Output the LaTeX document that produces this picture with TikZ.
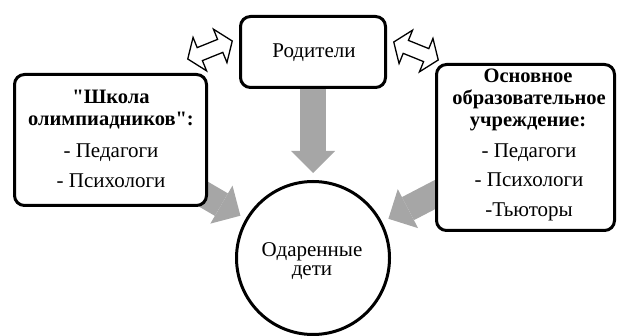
\documentclass[tikz,border=0pt]{standalone}
\usepackage{fontspec}
\newfontfamily\dfont{Liberation Serif}
\usetikzlibrary{arrows.meta,backgrounds}
\definecolor{arrowgray}{RGB}{166,166,166}
\begin{document}
\begin{tikzpicture}[x=1pt,y=-1pt,
  box/.style={draw=black, line width=3pt, rounded corners=10pt, fill=white, inner sep=0pt},
  lbl/.style={anchor=base, inner sep=0pt, font=\dfont\fontsize{21}{24}\selectfont},
  blbl/.style={anchor=base, inner sep=0pt, font=\dfont\fontsize{20.5}{24}\selectfont\bfseries},
  fat/.style={draw=arrowgray, line width=26pt, -{Triangle[length=22pt,width=44pt,line width=0pt]}},
  dbl/.style={draw=black, line width=1.3pt, fill=white, line join=miter}]
\useasboundingbox (0,0) rectangle (617,336);

% boxes
\node[box, minimum width=145pt, minimum height=71pt] (parents) at (313,52) {};
\node[box, minimum width=192pt, minimum height=131pt] (school) at (110.5,140) {};
\node[box, minimum width=178pt, minimum height=166pt] (main) at (525.5,147.5) {};
\node[draw=black, line width=3pt, fill=white, circle, inner sep=0pt, minimum size=153pt] (kids) at (313,258) {};

% texts
\node[lbl] (ptxt) at (314,58) {Родители};
\node[blbl] (s1) at (111,104) {"Школа};
\node[blbl] (s2) at (111,126) {олимпиадников":};
\node[lbl] (s3) at (111,158) {- Педагоги};
\node[lbl] (s4) at (111,188) {- Психологи};
\node[blbl] (r1) at (528,83) {Основное};
\node[blbl] (r2) at (529,105) {образовательное};
\node[blbl] (r3) at (528,127) {учреждение:};
\node[lbl] (r4) at (529,158) {- Педагоги};
\node[lbl] (r5) at (529,187) {- Психологи};
\node[lbl] (r6) at (529,217) {-Тьюторы};
\node[lbl] (k1) at (312,256) {Одаренные};
\node[lbl] (k2) at (312,275) {дети};

% gray arrows behind boxes
\begin{pgfonlayer}{background}
\draw[fat, shorten >=7pt] (parents.center) -- (kids);
\draw[fat, shorten >=6pt] (school.center) -- (kids);
\draw[fat, shorten >=7pt] (main.center) -- (kids);
\end{pgfonlayer}

% double outline arrows
\draw[dbl, shift={(210,50)}, rotate=22]
  (-24,0) -- (-11,18) -- (-11,7) -- (11,7) -- (11,18) -- (24,0) -- (11,-18) -- (11,-7) -- (-11,-7) -- (-11,-18) -- cycle;
\draw[dbl, shift={(416,51)}, rotate=-22]
  (-24,0) -- (-11,18) -- (-11,7) -- (11,7) -- (11,18) -- (24,0) -- (11,-18) -- (11,-7) -- (-11,-7) -- (-11,-18) -- cycle;
\end{tikzpicture}
\end{document}
